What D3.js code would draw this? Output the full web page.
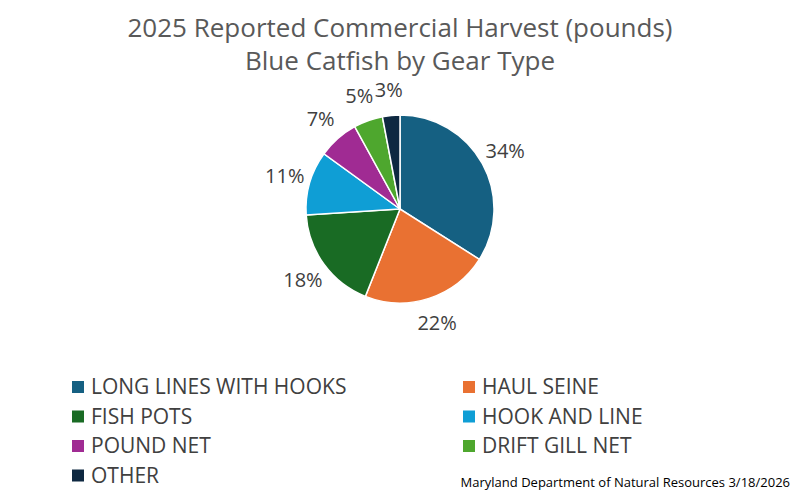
<!DOCTYPE html>
<html><head><meta charset="utf-8">
<script src="https://cdn.jsdelivr.net/npm/d3@7"></script>
<style>body{margin:0;background:#fff}svg{font-family:Aptos,"Open Sans","Noto Sans",sans-serif}</style>
</head><body>
<script>
const categories = ["LONG LINES WITH HOOKS","HAUL SEINE","FISH POTS","HOOK AND LINE","POUND NET","DRIFT GILL NET","OTHER"];
const values = [34,22,18,11,7,5,3];
const colors = ["#156082","#E97132","#196B24","#0F9ED5","#A02B93","#4EA72E","#0E2841"];

const W = 800, H = 496, cx = 400, cy = 209, r = 94;
const svg = d3.select("body").append("svg").attr("width", W).attr("height", H);

svg.append("text").attr("x", 400).attr("y", 37).attr("text-anchor", "middle")
  .attr("font-size", 26).attr("fill", "#595959").text("2025 Reported Commercial Harvest (pounds)");
svg.append("text").attr("x", 400).attr("y", 70).attr("text-anchor", "middle")
  .attr("font-size", 26).attr("fill", "#595959").text("Blue Catfish by Gear Type");

const data = categories.map((c, i) => ({c, v: values[i], col: colors[i]}));
const pie = d3.pie().value(d => d.v).sort(null);
const arc = d3.arc().innerRadius(0).outerRadius(r);
const labelArc = d3.arc().innerRadius(120).outerRadius(120);
const g = svg.append("g").attr("transform", `translate(${cx},${cy})`);
const arcs = pie(data);
g.selectAll("path").data(arcs).join("path")
  .attr("d", arc).attr("fill", d => d.data.col).attr("stroke", "#fff").attr("stroke-width", 1.5);
g.selectAll("text").data(arcs).join("text")
  .attr("transform", d => `translate(${labelArc.centroid(d)})`)
  .attr("text-anchor", "middle").attr("dy", "0.35em")
  .attr("font-size", 20).attr("fill", "#404040")
  .text(d => d.data.v + "%");

const leg = svg.append("g");
data.forEach((d, i) => {
  const col = i % 2, row = Math.floor(i / 2);
  const x = col ? 463 : 72, y = 387 + row * 29.5;
  leg.append("rect").attr("x", x).attr("y", y - 6).attr("width", 12).attr("height", 12).attr("fill", d.col);
  leg.append("text").attr("x", x + 19).attr("y", y).attr("dy", "0.35em")
    .attr("font-size", 21).attr("fill", "#404040").text(d.c);
});

svg.append("text").attr("x", 790).attr("y", 487).attr("text-anchor", "end")
  .attr("font-size", 13).attr("fill", "#000").text("Maryland Department of Natural Resources 3/18/2026");
</script>
</body></html>
